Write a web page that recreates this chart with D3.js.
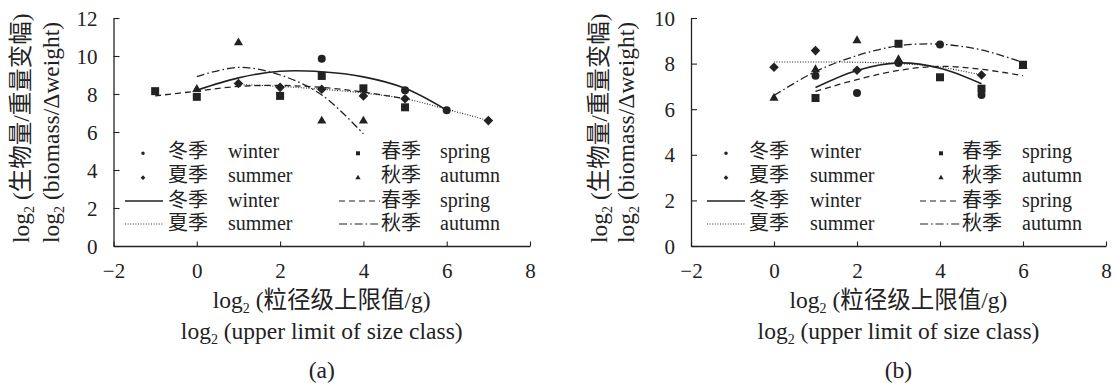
<!DOCTYPE html>
<html><head><meta charset="utf-8">
<script src="https://cdn.jsdelivr.net/npm/d3@7"></script>
<style>
body{margin:0;background:#fff}
svg{display:block;background:#fff}
text{font-family:"Liberation Serif","Times New Roman","Noto Sans CJK SC",serif;fill:#222}
</style>
</head><body>
<svg id="chart" width="1116" height="387"></svg>
<script>
// ---------- data ----------
const xTicks = [-2, 0, 2, 4, 6, 8];
const yTicksA = [0, 2, 4, 6, 8, 10, 12];
const yTicksB = [0, 2, 4, 6, 8, 10];
const seasonKeys = ["winter", "spring", "summer", "autumn"];
const seasonZh = ["冬季", "春季", "夏季", "秋季"];
const seasonEn = ["winter", "spring", "summer", "autumn"];

// panel (a) observed points [x, y]
const aWinterPts = [[3, 9.85], [5, 8.2], [6, 7.15]];
const aSpringPts = [[-1, 8.15], [0, 7.85], [2, 7.9], [3, 8.95], [4, 8.3], [5, 7.3]];
const aSummerPts = [[1, 8.55], [2, 8.35], [3, 8.25], [4, 7.9], [5, 7.75], [7, 6.6]];
const aAutumnPts = [[0, 8.25], [1, 10.7], [3, 6.58], [4, 6.58]];
// panel (a) fitted curves
const aWinterFit = [[0, 8.2], [1, 8.85], [2, 9.2], [3, 9.17], [4, 8.9], [5, 8.3], [6, 7.15]];
const aSpringFit = [[-1, 7.9], [0, 8.15], [1, 8.4], [2, 8.45], [3, 8.35], [4, 8.1], [5, 7.75]];
const aSummerFit = [[1, 8.5], [2, 8.4], [3, 8.25], [4, 8.05], [5, 7.75], [6, 7.2], [7, 6.6]];
const aAutumnFit = [[0, 8.92], [1, 9.4], [2, 9.0], [3, 7.95], [4, 5.9]];

// panel (b) observed points
const bWinterPts = [[1, 7.47], [2, 6.71], [3, 8.03], [4, 8.84], [5, 6.62]];
const bSpringPts = [[1, 6.49], [3, 8.87], [4, 7.4], [5, 6.9], [6, 7.95]];
const bSummerPts = [[0, 7.84], [1, 8.57], [2, 7.71], [5, 7.5]];
const bAutumnPts = [[0, 6.49], [1, 7.74], [2, 9.01], [3, 8.18], [6, 7.88]];
// panel (b) fitted curves
const bWinterFit = [[1, 6.95], [2, 7.7], [3, 8.03], [4, 7.8], [5, 7.12]];
const bSpringFit = [[1, 6.78], [2, 7.3], [3, 7.7], [4, 7.88], [5, 7.75], [6, 7.47]];
const bSummerFit = [[0, 8.07], [1, 8.07], [2, 8.06], [3, 8.0], [4, 7.85], [5, 7.5]];
const bAutumnFit = [[0, 6.6], [1, 7.65], [2, 8.35], [3, 8.78], [4, 8.85], [5, 8.6], [6, 8.05]];

const xTitleZh = "粒径级上限值/g";
const xTitleEn = "upper limit of size class";
const yTitleZh = "生物量/重量变幅";
const yTitleEn = "biomass/Δweight";

// ---------- layout / style ----------
const ink = "#222";
const panels = [
  { label: "(a)", x0: 113.5, x1: 530, yMax: 12, yTicks: yTicksA,
    pts: { winter: aWinterPts, spring: aSpringPts, summer: aSummerPts, autumn: aAutumnPts },
    fits: { winter: aWinterFit, spring: aSpringFit, summer: aSummerFit, autumn: aAutumnFit },
    yTitleX: [29, 59], leg: { sym: [29.5, 244.5], line: [[11.5, 49.5], [225.5, 266.5]], zh: [54.5, 267.5], en: [114.5, 326.5] } },
  { label: "(b)", x0: 691, x1: 1106, yMax: 10, yTicks: yTicksB,
    pts: { winter: bWinterPts, spring: bSpringPts, summer: bSummerPts, autumn: bAutumnPts },
    fits: { winter: bWinterFit, spring: bSpringFit, summer: bSummerFit, autumn: bAutumnFit },
    yTitleX: [607, 634], leg: { sym: [35, 250], line: [[16, 54], [229, 269]], zh: [58, 271], en: [119, 331] } }
];
const yBottom = 246, yTop = 18;

const symType = { winter: d3.symbolCircle, spring: d3.symbolSquare, summer: d3.symbolSquare, autumn: d3.symbolTriangle };
const symSize = { winter: 50, spring: 64, summer: 46, autumn: 36 };
const symSizeLeg = { winter: 10, spring: 16, summer: 11, autumn: 12 };
const symRot = { winter: 0, spring: 0, summer: 45, autumn: 0 };
const lineStyle = {
  winter: { dash: null, w: 1.6 },
  spring: { dash: "6,4", w: 1.3 },
  summer: { dash: "1,1.6", w: 1.1 },
  autumn: { dash: "8,3,1.6,3", w: 1.3 }
};

const svg = d3.select("#chart");

panels.forEach(p => {
  const x = d3.scaleLinear().domain([-2, 8]).range([p.x0, p.x1]);
  const y = d3.scaleLinear().domain([0, p.yMax]).range([yBottom, yTop]);
  const g = svg.append("g");

  // axes
  const ax = g.append("g").attr("transform", `translate(0,${yBottom})`).style("color", ink)
    .call(d3.axisBottom(x).tickValues(xTicks).tickSize(-4.5).tickSizeOuter(0).tickPadding(17));
  const ay = g.append("g").attr("transform", `translate(${p.x0},0)`).style("color", ink)
    .call(d3.axisLeft(y).tickValues(p.yTicks).tickSize(-6).tickSizeOuter(0).tickPadding(16));
  [ax, ay].forEach(a => {
    a.select(".domain").attr("stroke-width", 1.3);
    a.selectAll(".tick line").attr("stroke-width", 1.1);
    a.selectAll(".tick text").style("font-size", "21px").style("font-family", '"Liberation Serif","Times New Roman",serif');
  });
  ay.selectAll(".tick text").attr("dy", "0.34em");

  // fitted curves
  const line = d3.line().x(d => x(d[0])).y(d => y(d[1])).curve(d3.curveCatmullRom.alpha(0.5));
  seasonKeys.forEach(k => {
    const s = lineStyle[k];
    g.append("path").attr("d", line(p.fits[k])).attr("fill", "none").attr("stroke", ink)
      .attr("stroke-width", s.w).attr("stroke-dasharray", s.dash);
  });

  // points
  seasonKeys.forEach(k => {
    g.selectAll(null).data(p.pts[k]).enter().append("path")
      .attr("d", d3.symbol().type(symType[k]).size(symSize[k]))
      .attr("transform", d => `translate(${x(d[0])},${y(d[1])}) rotate(${symRot[k]})`)
      .attr("fill", ink);
  });

  // legend
  const L = p.leg;
  const symRows = [153.3, 177.7], lineRows = [201, 224], textRows = [158, 182, 206.5, 230];
  const grid = [["winter", "spring"], ["summer", "autumn"]];
  grid.forEach((row, r) => row.forEach((k, c) => {
    const i = seasonKeys.indexOf(k);
    g.append("path").attr("d", d3.symbol().type(symType[k]).size(symSizeLeg[k]))
      .attr("transform", `translate(${p.x0 + L.sym[c]},${symRows[r]}) rotate(${symRot[k]})`).attr("fill", ink);
    g.append("text").attr("x", p.x0 + L.zh[c]).attr("y", textRows[r]).style("font-size", "20px").text(seasonZh[i]);
    g.append("text").attr("x", p.x0 + L.en[c]).attr("y", textRows[r]).style("font-size", "20px").text(seasonEn[i]);
  }));
  grid.forEach((row, r) => row.forEach((k, c) => {
    const i = seasonKeys.indexOf(k);
    const s = lineStyle[k];
    g.append("line").attr("x1", p.x0 + L.line[c][0]).attr("x2", p.x0 + L.line[c][1])
      .attr("y1", lineRows[r]).attr("y2", lineRows[r]).attr("stroke", ink)
      .attr("stroke-width", s.w * 0.85).attr("stroke-dasharray", s.dash);
    g.append("text").attr("x", p.x0 + L.zh[c]).attr("y", textRows[r + 2]).style("font-size", "20px").text(seasonZh[i]);
    g.append("text").attr("x", p.x0 + L.en[c]).attr("y", textRows[r + 2]).style("font-size", "20px").text(seasonEn[i]);
  }));

  // x title
  const cx = (p.x0 + p.x1) / 2;
  function logTitle(sel, rest) {
    sel.append("tspan").text("log");
    sel.append("tspan").text("2").style("font-size", "14px").attr("dy", 5);
    sel.append("tspan").text(" (" + rest + ")").attr("dy", -5);
  }
  const t1 = g.append("text").attr("x", cx).attr("y", 308).attr("text-anchor", "middle").style("font-size", "23.5px");
  logTitle(t1, xTitleZh);
  const t2 = g.append("text").attr("x", cx).attr("y", 339).attr("text-anchor", "middle").style("font-size", "23.5px");
  logTitle(t2, xTitleEn);
  g.append("text").attr("x", cx).attr("y", 378).attr("text-anchor", "middle").style("font-size", "23.5px").text(p.label);

  // y title
  const y1 = g.append("text").attr("transform", `translate(${p.yTitleX[0]},243) rotate(-90)`).style("font-size", "23.5px");
  logTitle(y1, yTitleZh);
  const y2 = g.append("text").attr("transform", `translate(${p.yTitleX[1]},243) rotate(-90)`).style("font-size", "23.5px");
  logTitle(y2, yTitleEn);
});
</script>
</body></html>
